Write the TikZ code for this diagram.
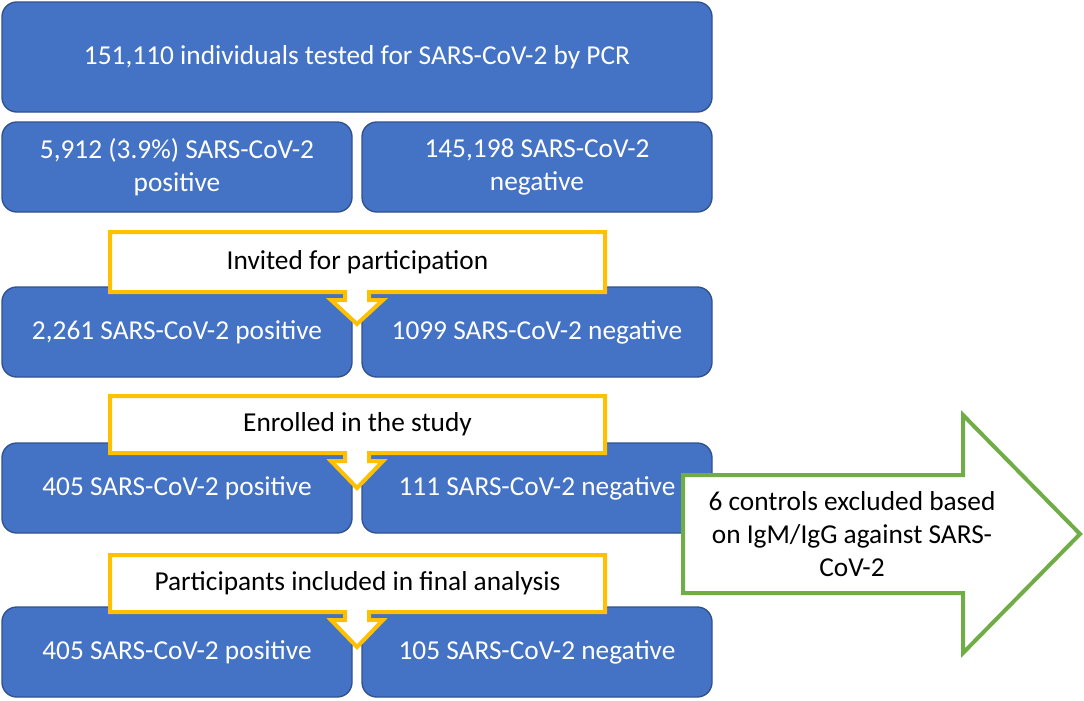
\documentclass[tikz,border=0pt]{standalone}
\usepackage{fontspec}
\setmainfont{Carlito}
\usetikzlibrary{positioning}
\definecolor{boxblue}{HTML}{4472C4}
\definecolor{boxedge}{HTML}{2F528F}
\definecolor{callyellow}{HTML}{FFC000}
\definecolor{exclgreen}{HTML}{70AD47}

% down arrow callout: name, top, bottom, tip, text
\newcommand{\downcallout}[5]{%
  \draw[callout] (110,#2) -- (605,#2) -- (605,#3) -- (369,#3) -- (369,#3+8)
    -- (383,#3+8) -- (357,#4) -- (331,#3+8) -- (345,#3+8) -- (345,#3)
    -- (110,#3) -- cycle;
  \node[calltext] (#1) at (357.5,{(#2+#3)/2}) {#5};
}

\begin{document}
\begin{tikzpicture}[
  x=0.75pt, y=-0.75pt,
  bluebox/.style={rounded corners=11pt, draw=boxedge, line width=1pt, fill=boxblue,
    text=white, align=center, font=\fontsize{20.5pt}{25pt}\selectfont,
    minimum width=262.5pt, minimum height=67.5pt, inner sep=0pt},
  callout/.style={draw=callyellow, line width=3pt, fill=white},
  calltext/.style={text=black, align=center, font=\fontsize{20.5pt}{25pt}\selectfont, inner sep=0pt},
  exclarrow/.style={draw=exclgreen, line width=3pt, fill=white}
]
\useasboundingbox (0,0) rectangle (1084,700);

% screening
\node[bluebox, minimum width=532.5pt, minimum height=82.5pt] (tested) at (357,57)
  {151,110 individuals tested for SARS-CoV-2 by PCR};
\node[bluebox] (pcrpos) at (177,167) {5,912 (3.9\%) SARS-CoV-2\\positive};
\node[bluebox] (pcrneg) at (537,167) {145,198 SARS-CoV-2\\negative};

% invited, enrolled, analysed
\node[bluebox] (invpos) at (177,332) {2,261 SARS-CoV-2 positive};
\node[bluebox] (invneg) at (537,332) {1099 SARS-CoV-2 negative};
\node[bluebox] (enrpos) at (177,488) {405 SARS-CoV-2 positive};
\node[bluebox] (enrneg) at (537,488) {111 SARS-CoV-2 negative};
\node[bluebox] (finpos) at (177,652) {405 SARS-CoV-2 positive};
\node[bluebox] (finneg) at (537,652) {105 SARS-CoV-2 negative};

\downcallout{invited}{232}{292}{324}{Invited for participation}
\downcallout{enrolled}{396}{453}{488}{Enrolled in the study}
\downcallout{final}{555}{612}{647}{Participants included in final analysis}

% excluded controls
\draw[exclarrow] (683,475) -- (963,475) -- (963,415) -- (1080,534) -- (963,653)
  -- (963,593) -- (683,593) -- cycle;
\node[calltext] (excluded) at (852,534)
  {6 controls excluded based\\on IgM/IgG against SARS-\\CoV-2};
\end{tikzpicture}
\end{document}
